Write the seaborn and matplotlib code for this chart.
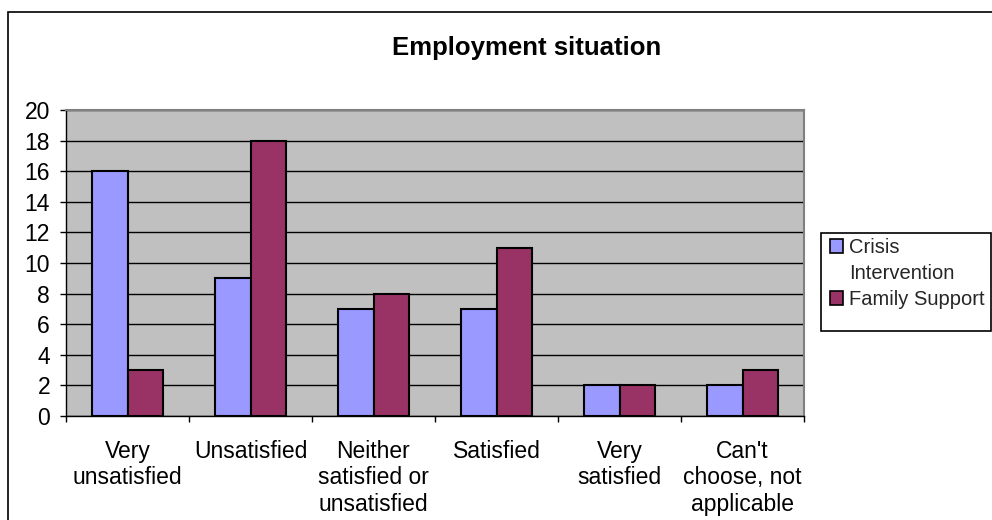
import matplotlib
matplotlib.use("Agg")
import matplotlib.pyplot as plt
import seaborn as sns
import pandas as pd
from matplotlib.patches import Rectangle, Patch
from matplotlib.ticker import FixedLocator

# ---- data ----
categories = ["Very\nunsatisfied", "Unsatisfied", "Neither\nsatisfied or\nunsatisfied",
              "Satisfied", "Very\nsatisfied", "Can't\nchoose, not\napplicable"]
series_names = ["Crisis Intervention", "Family Support"]
crisis = [16, 9, 7, 7, 2, 2]
family = [3, 18, 8, 11, 2, 3]
yticks = [0, 2, 4, 6, 8, 10, 12, 14, 16, 18, 20]
title = "Employment situation"

BLUE = "#9999FF"
PURPLE = "#993366"
GRAY = "#C0C0C0"

df = pd.DataFrame({
    "category": categories + categories,
    "series": [series_names[0]] * len(categories) + [series_names[1]] * len(categories),
    "value": crisis + family,
})

sns.set_theme(style="white")
plt.rcParams['font.family'] = ['Liberation Sans', 'DejaVu Sans']

W, H = 992, 520
fig = plt.figure(figsize=(W / 100, H / 100), dpi=100)
ax = fig.add_axes([66 / W, 104 / H, 738 / W, 306 / H])

sns.barplot(data=df, x="category", y="value", hue="series", order=categories,
            hue_order=series_names, palette=[BLUE, PURPLE], saturation=1,
            width=0.57, gap=0, edgecolor="black", linewidth=1.5,
            legend=False, ax=ax, errorbar=None)

ax.set_facecolor(GRAY)
ax.set_xlim(-0.5, len(categories) - 0.5)
ax.set_ylim(0, 20)
ax.set_xlabel("")
ax.set_ylabel("")
ax.yaxis.grid(True, color="black", linewidth=1)
ax.xaxis.grid(False)
ax.set_axisbelow(True)

ax.set_yticks(yticks)
ax.tick_params(axis="y", which="major", left=True, direction="out", length=4.5,
               width=1, color="black", labelsize=16.5, pad=7, labelcolor="black")
ax.set_xticks(range(len(categories)))
ax.set_xticklabels(categories, linespacing=1.2)
ax.tick_params(axis="x", which="major", length=0, pad=17, labelsize=16.5,
               labelcolor="black")
ax.xaxis.set_minor_locator(FixedLocator([i - 0.5 for i in range(len(categories) + 1)]))
ax.tick_params(axis="x", which="minor", bottom=True, direction="out", length=4.5,
               width=1, color="black")

for side in ["left", "bottom"]:
    ax.spines[side].set_color("black")
    ax.spines[side].set_linewidth(1)
for side in ["top", "right"]:
    ax.spines[side].set_color("#808080")
    ax.spines[side].set_linewidth(1.5)

# outer chart frame
fig.patches.append(Rectangle((8 / W, -0.1), 1.2, 1 - 12 / H + 0.1, transform=fig.transFigure,
                             fill=False, edgecolor="black", linewidth=1.2))

fig.text(527 / W, 1 - 48 / H, title, ha="center", va="center",
         fontsize=18.5, fontweight="bold", color="black")

# legend
fig.patches.append(Rectangle((821 / W, 1 - 331 / H), 170 / W, 98 / H, transform=fig.transFigure,
                             fill=False, edgecolor="black", linewidth=1.2))
handles = [Patch(facecolor=BLUE, edgecolor="black", linewidth=1.2),
           Patch(facecolor="none", edgecolor="none"),
           Patch(facecolor=PURPLE, edgecolor="black", linewidth=1.2)]
labels = ["Crisis", "Intervention", "Family Support"]
fig.legend(handles, labels, loc="upper left", bbox_to_anchor=(830 / W, 1 - 238 / H),
           frameon=False, fontsize=14.5, handlelength=0.65, handleheight=0.65,
           handletextpad=0.3, labelspacing=0.35, borderpad=0, borderaxespad=0)

fig.savefig("out.png", dpi=100)
